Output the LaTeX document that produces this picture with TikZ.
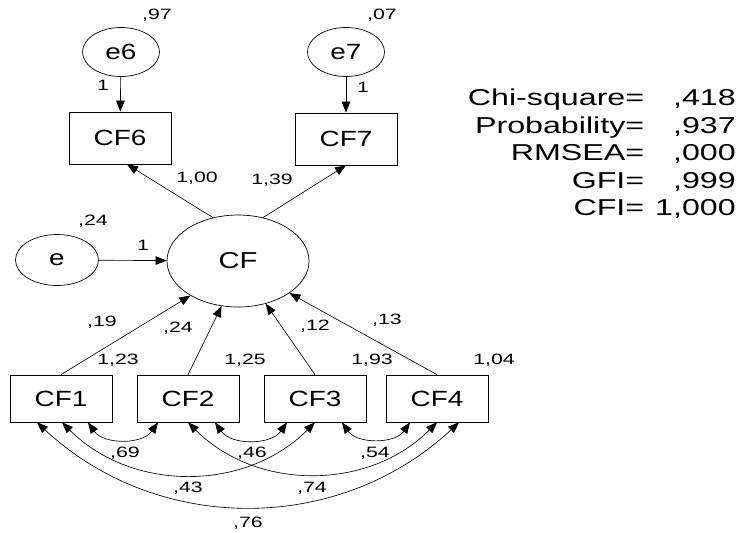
\documentclass[tikz,border=0pt]{standalone}
\usepackage{fontspec}
\setmainfont{Liberation Sans}
\newfontfamily\boxfont{Liberation Sans}[FakeStretch=1.27]
\newfontfamily\fitfont{Liberation Sans}[FakeStretch=1.4]
\newfontfamily\lblfont{Liberation Sans}[FakeStretch=1.42]
\usetikzlibrary{shapes.geometric,arrows.meta}

\begin{document}
\begin{tikzpicture}[x=1pt,y=-1pt,
  obs/.style={draw,line width=0.7pt,inner sep=0pt,minimum width=102pt,
    font=\boxfont\fontsize{22}{26}\selectfont},
  latent/.style={draw,ellipse,line width=0.7pt,inner sep=0pt,
    font=\boxfont\fontsize{22}{26}\selectfont},
  est/.style={inner sep=0pt,font=\lblfont\fontsize{15}{18}\selectfont},
  regpath/.style={line width=0.65pt,-{Triangle[length=11pt,width=8.5pt]}},
  covpath/.style={line width=0.65pt,{Triangle[length=11pt,width=8.5pt]}-{Triangle[length=11pt,width=8.5pt]}}]
\useasboundingbox (0,0) rectangle (742,533);

% error terms and indicators
\node[latent,minimum width=77pt,minimum height=49pt] (e6) at (121,52) {e6};
\node[latent,minimum width=77pt,minimum height=49pt] (e7) at (346,52) {e7};
\node[obs,minimum height=52pt] (CF6) at (120,138) {CF6};
\node[obs,minimum height=52pt] (CF7) at (346,139) {CF7};

% latent factor and its disturbance
\node[latent,minimum width=142pt,minimum height=92pt,
  font=\boxfont\fontsize{23}{27}\selectfont] (CF) at (238,261) {CF};
\node[latent,minimum width=83pt,minimum height=51pt] (e) at (57,260) {e};

% observed predictors
\node[obs,minimum height=47pt] (CF1) at (61,398.5) {CF1};
\node[obs,minimum height=47pt] (CF2) at (188,398.5) {CF2};
\node[obs,minimum height=47pt] (CF3) at (315,398.5) {CF3};
\node[obs,minimum height=47pt] (CF4) at (437,398.5) {CF4};

% regression paths
\draw[regpath] (e6) -- (CF6);
\draw[regpath] (e7) -- (CF7);
\draw[regpath] (CF.120) -- ([xshift=7pt]CF6.south);
\draw[regpath] (CF.60) -- (CF7.south);
\draw[regpath] (e) -- (CF);
\draw[regpath] (CF1.north) -- (CF.216);
\draw[regpath] (CF2.north) -- (CF.250);
\draw[regpath] (CF3.north) -- (CF.303);
\draw[regpath] (CF4.north) -- (CF.328);

% covariances between predictors
\draw[covpath] ([xshift=27pt]CF1.south) to[bend right=55] ([xshift=-30pt]CF2.south);
\draw[covpath] ([xshift=27pt]CF2.south) to[bend right=55] ([xshift=-28pt]CF3.south);
\draw[covpath] ([xshift=27pt]CF3.south) to[bend right=55] ([xshift=-27pt]CF4.south);
\draw[covpath] ([xshift=1pt]CF1.south) to[bend right=45] (CF3.south);
\draw[covpath] (CF2.south) to[bend right=45] (CF4.south);
\draw[covpath] ([xshift=-24pt]CF1.south) to[bend right=43] ([xshift=22pt]CF4.south);

% estimates
\node[est] (v97) at (157,15) {,97};
\node[est] (v07) at (382,15) {,07};
\node[est] (w6) at (103,85) {1};
\node[est] (w7) at (363,87) {1};
\node[est] (b100) at (197,178) {1,00};
\node[est] (b139) at (272,180) {1,39};
\node[est] (ve) at (93,221) {,24};
\node[est] (we) at (143,245) {1};
\node[est] (b19) at (102,322) {,19};
\node[est] (b24) at (178,328) {,24};
\node[est] (b12) at (315,326) {,12};
\node[est] (b13) at (387,320) {,13};
\node[est] (v123) at (118,360) {1,23};
\node[est] (v125) at (245,360) {1,25};
\node[est] (v193) at (372,360) {1,93};
\node[est] (v104) at (494,360) {1,04};
\node[est] (c69) at (125,453) {,69};
\node[est] (c46) at (252,453) {,46};
\node[est] (c54) at (375,453) {,54};
\node[est] (c43) at (188,488) {,43};
\node[est] (c74) at (312,488) {,74};
\node[est] (c76) at (248,523) {,76};

% fit indices
\node[anchor=east,inner sep=0pt,font=\fitfont\fontsize{23}{27.5}\selectfont] (fit) at (736,155)
  {\begin{tabular}{@{}r@{\hspace{11pt}}r@{}}
   Chi-square= & ,418\\
   Probability= & ,937\\
   RMSEA= & ,000\\
   GFI= & ,999\\
   CFI= & 1,000
   \end{tabular}};
\end{tikzpicture}
\end{document}
